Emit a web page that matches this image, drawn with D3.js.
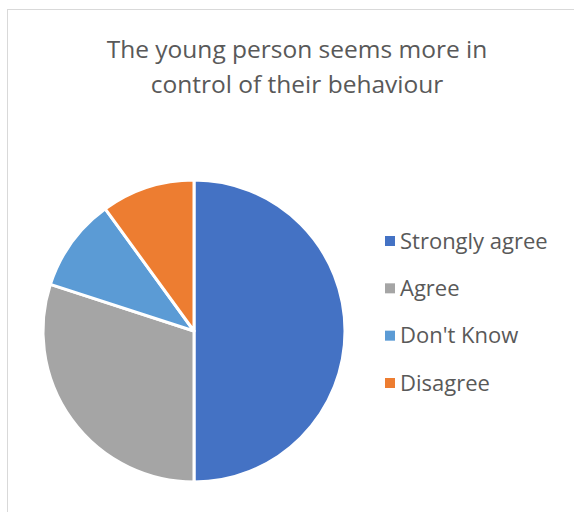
<!DOCTYPE html>
<html><head><meta charset="utf-8">
<script src="https://cdn.jsdelivr.net/npm/d3@7"></script>
<style>body{margin:0;background:#fff;}svg{display:block;}</style>
</head><body>
<script>
const categories = ["Strongly agree", "Agree", "Don't Know", "Disagree"];
const values = [50, 30, 10, 10];
const colors = ["#4472C4", "#A5A5A5", "#5B9BD5", "#ED7D31"];
const titleLines = ["The young person seems more in", "control of their behaviour"];

const W = 574, H = 512;
const svg = d3.select("body").append("svg").attr("width", W).attr("height", H);
svg.append("rect").attr("x", 7.5).attr("y", 9.5).attr("width", W).attr("height", H)
  .attr("fill", "#fff").attr("stroke", "#d9d9d9").attr("stroke-width", 1);

const font = "'Open Sans', 'Noto Sans', sans-serif";
svg.append("g").selectAll("text").data(titleLines).join("text")
  .attr("x", 297).attr("y", (d, i) => 58 + i * 35)
  .attr("text-anchor", "middle").attr("font-family", font).attr("font-size", 24.5)
  .attr("fill", "#595959").text(d => d);

const cx = 194, cy = 331, r = 151;
const pie = d3.pie().sort(null).value(d => d);
const arc = d3.arc().innerRadius(0).outerRadius(r);
const color = d3.scaleOrdinal().domain(categories).range(colors);
svg.append("g").attr("transform", `translate(${cx},${cy})`)
  .selectAll("path").data(pie(values)).join("path")
  .attr("d", arc).attr("fill", (d, i) => color(categories[i]))
  .attr("stroke", "#fff").attr("stroke-width", 3).attr("stroke-linejoin", "round");

const ly = d3.scalePoint().domain(categories).range([241, 383]);
const lg = svg.append("g").selectAll("g").data(categories).join("g")
  .attr("transform", d => `translate(385,${ly(d)})`);
lg.append("rect").attr("x", 0).attr("y", -5).attr("width", 10).attr("height", 10)
  .attr("fill", d => color(d));
lg.append("text").attr("x", 15).attr("y", 0).attr("dy", "0.35em")
  .attr("font-family", font).attr("font-size", 22).attr("fill", "#595959").text(d => d);
</script>
</body></html>
